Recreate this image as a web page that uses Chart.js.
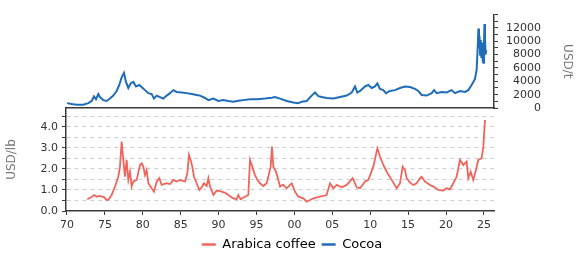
<!DOCTYPE html>
<html>
<head>
<meta charset="utf-8">
<script src="https://cdn.jsdelivr.net/npm/chart.js@4.4.1/dist/chart.umd.min.js"></script>
<style>
  html, body { margin: 0; padding: 0; background: #fff; }
  #wrap { position: relative; width: 584px; height: 257px; }
  #wrap canvas { position: absolute; left: 0; top: 0; }
</style>
</head>
<body>
<div id="wrap">
  <canvas id="cocoaChart" width="584" height="257"></canvas>
  <canvas id="coffeeChart" width="584" height="257"></canvas>
</div>
<script>
// Cocoa, USD/t (top panel)
const cocoaYears = [
  1970.0, 1970.62, 1971.28, 1972.15, 1972.81, 1973.25, 1973.56, 1973.83, 1974.13, 1974.35,
  1974.79, 1975.23, 1975.67, 1976.11, 1976.55, 1976.9, 1977.21, 1977.52, 1977.78, 1978.09,
  1978.4, 1978.75, 1979.1, 1979.54, 1979.98, 1980.29, 1980.73, 1981.17, 1981.48, 1981.83,
  1982.27, 1982.71, 1983.15, 1983.59, 1984.03, 1984.47, 1985.13, 1985.79, 1986.45, 1987.11,
  1987.55, 1988.21, 1988.65, 1989.31, 1989.96, 1990.62, 1991.28, 1991.94, 1992.6, 1993.26,
  1994.14, 1995.02, 1996.12, 1997.0, 1997.44, 1998.1, 1998.98, 1999.86, 2000.52, 2000.96,
  2001.62, 2002.28, 2002.72, 2003.16, 2003.6, 2004.25, 2005.14, 2006.02, 2006.9, 2007.56,
  2008.0, 2008.3, 2008.66, 2009.32, 2009.76, 2010.19, 2010.63, 2010.94, 2011.29, 2011.73,
  2012.09, 2012.61, 2013.27, 2013.93, 2014.59, 2015.25, 2015.91, 2016.35, 2016.79, 2017.45,
  2018.11, 2018.42, 2018.77, 2019.43, 2020.08, 2020.74, 2021.18, 2021.84, 2022.5, 2022.94,
  2023.38, 2023.82, 2024.04, 2024.2, 2024.27, 2024.35, 2024.42, 2024.5, 2024.58, 2024.67,
  2024.75, 2024.85, 2024.93, 2025.01, 2025.07, 2025.14, 2025.22, 2025.3
];
const cocoaValues = [
  730, 590, 500, 500, 730, 1050, 1730, 1320, 2090, 1640,
  1180, 1050, 1410, 1860, 2550, 3450, 4590, 5270, 3910, 3000,
  3680, 3910, 3230, 3450, 3000, 2680, 2230, 2090, 1410, 1860,
  1640, 1410, 1860, 2230, 2680, 2410, 2320, 2230, 2090, 1950,
  1860, 1500, 1180, 1410, 1050, 1180, 1050, 950, 1090, 1180,
  1320, 1320, 1410, 1550, 1640, 1410, 1050, 820, 730, 950,
  1050, 1860, 2320, 1770, 1640, 1500, 1410, 1640, 1860, 2320,
  3230, 2320, 2550, 3230, 3450, 3000, 3230, 3680, 2860, 2680,
  2230, 2550, 2680, 3000, 3230, 3140, 2860, 2550, 1950, 1860,
  2230, 2680, 2230, 2410, 2320, 2680, 2230, 2550, 2410, 2680,
  3450, 4360, 5730, 9500, 11900, 9000, 10800, 8000, 10200, 7500,
  9800, 7000, 6800, 9590, 12600, 10500, 8000, 8700
];

// Arabica coffee, USD/lb (bottom panel)
const coffeeYears = [
  1972.68, 1973.3, 1973.6, 1973.91, 1974.3, 1974.57, 1974.9, 1975.23, 1975.5, 1975.89,
  1976.33, 1976.77, 1976.99, 1977.21, 1977.43, 1977.65, 1977.87, 1978.09, 1978.31, 1978.53,
  1978.75, 1979.19, 1979.63, 1979.85, 1980.07, 1980.29, 1980.51, 1980.73, 1981.17, 1981.48,
  1981.83, 1982.18, 1982.49, 1983.15, 1983.6, 1984.03, 1984.5, 1984.91, 1985.57, 1985.88,
  1986.09, 1986.31, 1986.53, 1986.75, 1987.11, 1987.46, 1987.77, 1988.07, 1988.43, 1988.65,
  1988.87, 1989.31, 1989.74, 1990.4, 1990.9, 1991.28, 1991.94, 1992.38, 1992.6, 1992.91,
  1993.48, 1993.92, 1994.14, 1994.45, 1994.8, 1995.11, 1995.46, 1995.9, 1996.34, 1996.56,
  1996.87, 1997.04, 1997.22, 1997.57, 1997.88, 1998.1, 1998.5, 1998.98, 1999.64, 2000.08,
  2000.52, 2001.18, 2001.62, 2002.06, 2002.5, 2003.38, 2004.25, 2004.7, 2005.14, 2005.58,
  2006.24, 2006.9, 2007.69, 2008.22, 2008.66, 2009.32, 2009.76, 2010.41, 2010.94, 2011.29,
  2011.73, 2012.17, 2012.83, 2013.49, 2013.93, 2014.28, 2014.59, 2014.81, 2015.25, 2015.69,
  2016.13, 2016.57, 2016.79, 2017.23, 2017.89, 2018.33, 2018.98, 2019.64, 2020.08, 2020.52,
  2020.96, 2021.4, 2021.84, 2022.28, 2022.72, 2022.94, 2023.25, 2023.6, 2023.95, 2024.26,
  2024.7, 2024.92, 2025.14
];
const coffeeValues = [
  0.56, 0.68, 0.76, 0.68, 0.72, 0.68, 0.66, 0.52, 0.56, 0.76,
  1.16, 1.63, 2.11, 3.30, 2.43, 1.63, 2.43, 1.48, 1.87, 1.16,
  1.40, 1.48, 2.19, 2.27, 2.11, 1.71, 1.95, 1.32, 1.08, 0.92,
  1.40, 1.56, 1.24, 1.32, 1.28, 1.48, 1.40, 1.48, 1.40, 1.79,
  2.67, 2.43, 2.11, 1.63, 1.32, 1.00, 1.13, 1.32, 1.19, 1.56,
  1.16, 0.76, 0.97, 0.92, 0.86, 0.76, 0.60, 0.56, 0.76, 0.56,
  0.68, 0.76, 2.43, 2.11, 1.71, 1.48, 1.32, 1.19, 1.32, 1.63,
  2.11, 3.06, 2.11, 1.87, 1.48, 1.16, 1.25, 1.08, 1.32, 0.92,
  0.68, 0.60, 0.44, 0.52, 0.60, 0.68, 0.76, 1.32, 1.08, 1.24,
  1.13, 1.24, 1.56, 1.13, 1.08, 1.40, 1.48, 2.11, 2.98, 2.59,
  2.19, 1.87, 1.48, 1.08, 1.32, 2.11, 1.95, 1.56, 1.35, 1.24,
  1.32, 1.56, 1.63, 1.40, 1.24, 1.16, 1.00, 0.97, 1.08, 1.03,
  1.32, 1.63, 2.43, 2.19, 2.35, 1.56, 1.87, 1.48, 1.95, 2.43,
  2.51, 3.06, 4.33
];

// axis ticks
const yearTicks = [1970, 1975, 1980, 1985, 1990, 1995, 2000, 2005, 2010, 2015, 2020, 2025];
const yearLabels = ['70', '75', '80', '85', '90', '95', '00', '05', '10', '15', '20', '25'];
const cocoaTicks = [0, 1000, 2000, 3000, 4000, 5000, 6000, 7000, 8000, 9000, 10000, 11000, 12000, 13000, 14000];
const cocoaTickLabels = ['0', '', '2000', '', '4000', '', '6000', '', '8000', '', '10000', '', '12000', '', ''];
const coffeeTicks = [0, 0.5, 1, 1.5, 2, 2.5, 3, 3.5, 4, 4.5];
const coffeeTickLabels = ['0.0', '', '1.0', '', '2.0', '', '3.0', '', '4.0', ''];

const legendNames = ['Arabica coffee', 'Cocoa'];
const coffeeColor = '#f0655b';
const cocoaColor = '#1f6cb8';
const legendColors = [coffeeColor, cocoaColor];

const axisColor = '#3a3a3a';
const tickColor = '#333333';
const titleColor = '#777777';
const gridColor = '#c9ced6';

// plot frame shared by both panels
const plotLeft = 66;
const plotRight = 494;
const splitY = 108;
const xMin = 1969.87;
const xMax = 2026.33;

Chart.defaults.font.family = "'DejaVu Sans', sans-serif";
Chart.defaults.font.size = 11;
Chart.defaults.animation = false;

function toPoints(xs, ys) {
  return xs.map((x, i) => ({ x: x, y: ys[i] }));
}

// right-align the cocoa labels: DejaVu digits and the figure space share one width
function padFigures(s) {
  return s === '' ? '' : s.padStart(5, '\u2007');
}

// Top panel: cocoa
new Chart(document.getElementById('cocoaChart'), {
  type: 'line',
  data: {
    datasets: [{
      label: 'Cocoa',
      data: toPoints(cocoaYears, cocoaValues),
      borderColor: cocoaColor,
      borderWidth: 2,
      pointRadius: 0,
      tension: 0
    }]
  },
  options: {
    responsive: false,
    layout: { padding: { left: plotLeft, top: 5, right: 0, bottom: 257 - splitY - 10 } },
    plugins: { legend: { display: false }, tooltip: { enabled: false } },
    scales: {
      x: {
        type: 'linear', min: xMin, max: xMax,
        grid: { display: false },
        border: { display: true, color: axisColor, width: 1.5 },
        ticks: { display: false },
        afterFit: s => { s.height = 10; }
      },
      y: {
        position: 'right', min: 0, max: 14000,
        afterBuildTicks: s => { s.ticks = cocoaTicks.map(v => ({ value: v })); },
        afterFit: s => { s.width = 584 - plotRight; },
        grid: { drawOnChartArea: false, drawTicks: true, tickLength: 4, tickColor: axisColor, tickWidth: 1 },
        border: { display: true, color: axisColor, width: 1.5 },
        ticks: {
          autoSkip: false, crossAlign: 'near', padding: 8, color: tickColor,
          callback: v => padFigures(cocoaTickLabels[cocoaTicks.indexOf(v)])
        },
        title: { display: true, text: 'USD/t', color: titleColor, font: { size: 12 }, padding: { top: 10, bottom: 0 } }
      }
    }
  }
});

// Bottom panel: coffee + legend
new Chart(document.getElementById('coffeeChart'), {
  type: 'line',
  data: {
    datasets: [{
      label: 'Arabica coffee',
      data: toPoints(coffeeYears, coffeeValues),
      borderColor: coffeeColor,
      borderWidth: 1.8,
      pointRadius: 0,
      tension: 0
    }]
  },
  options: {
    responsive: false,
    layout: { padding: { left: 0, top: splitY, right: 0, bottom: -4 } },
    plugins: {
      tooltip: { enabled: false },
      legend: {
        position: 'bottom',
        labels: {
          usePointStyle: true, pointStyle: 'line', pointStyleWidth: 14,
          padding: 6, color: '#555555', font: { size: 13 },
          generateLabels: () => legendNames.map((n, i) => ({
            text: n, strokeStyle: legendColors[i], fillStyle: legendColors[i],
            lineWidth: 2.5, pointStyle: 'line', hidden: false, datasetIndex: i
          }))
        }
      }
    },
    scales: {
      x: {
        type: 'linear', min: xMin, max: xMax,
        afterBuildTicks: s => { s.ticks = yearTicks.map(v => ({ value: v })); },
        afterFit: s => { s.height = 21; },
        grid: { drawOnChartArea: false, drawTicks: true, tickLength: 4, tickColor: axisColor },
        border: { display: true, color: axisColor, width: 1.5 },
        ticks: {
          autoSkip: false, maxRotation: 0, padding: 4, color: tickColor,
          callback: v => yearLabels[yearTicks.indexOf(v)]
        }
      },
      y: {
        position: 'left', min: 0, max: 4.9,
        afterBuildTicks: s => { s.ticks = coffeeTicks.map(v => ({ value: v })); },
        afterFit: s => { s.width = plotLeft; },
        grid: {
          color: c => (c.tick && c.tick.value === 0) ? 'rgba(0,0,0,0)' : gridColor,
          lineWidth: 1, borderDash: [4, 4], tickColor: axisColor, tickLength: 4, tickBorderDash: []
        },
        border: { display: true, color: axisColor, width: 1.5, dash: [4, 4] },
        ticks: {
          autoSkip: false, padding: 4, color: tickColor,
          callback: v => coffeeTickLabels[coffeeTicks.indexOf(v)]
        },
        title: { display: true, text: 'USD/lb', color: titleColor, font: { size: 12 }, padding: { top: 5, bottom: 0 } }
      },
      // empty right-hand spacer so the plot ends where the cocoa axis is
      yPad: {
        position: 'right', display: true,
        grid: { display: false }, border: { display: false }, ticks: { display: false },
        afterFit: s => { s.width = 584 - plotRight; }
      }
    }
  }
});
</script>
</body>
</html>
